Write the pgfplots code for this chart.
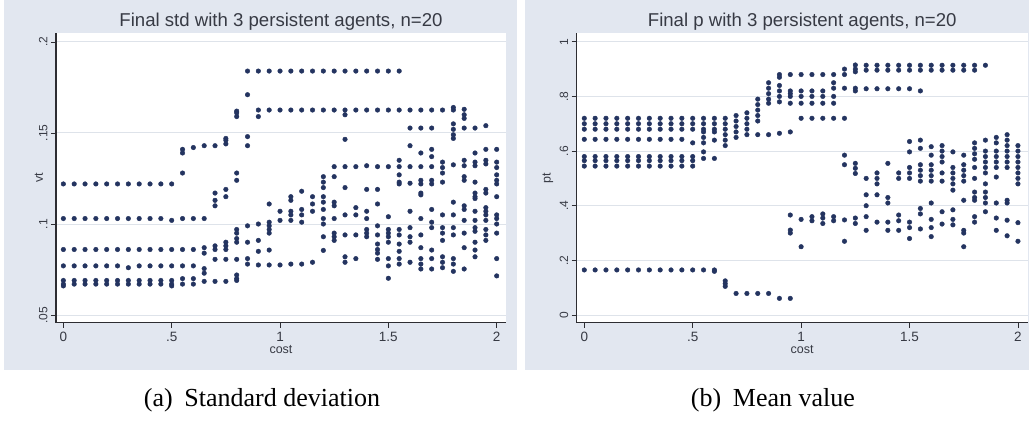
\documentclass[border=0pt]{standalone}
\usepackage{fontspec}
\setmainfont{Liberation Serif}
\newfontfamily\arial{Liberation Sans}
\usepackage{pgfplots}
\pgfplotsset{compat=1.18}
\definecolor{bg}{RGB}{226,231,240}
\definecolor{dotc}{RGB}{36,52,96}
\definecolor{gridc}{RGB}{222,227,234}
\definecolor{txt}{RGB}{55,58,68}
\definecolor{axc}{RGB}{45,45,50}

\pgfplotsset{
  stata/.style={
    scale only axis,
    anchor=south west,
    axis x line*=bottom, axis y line*=left,
    axis line style={axc, line width=1.1pt},
    tick style={axc, line width=0.8pt},
    major tick length=5pt, tick align=outside,
    ymajorgrids, grid style={gridc, line width=1pt},
    axis background/.style={fill=white},
    xticklabel style={font=\arial\fontsize{13.5}{13.5}\selectfont, text=txt, yshift=-1pt},
    yticklabel style={font=\arial\fontsize{12}{12}\selectfont, text=txt, rotate=90, anchor=south},
    title style={font=\arial\fontsize{18.6}{18.6}\selectfont, text=txt, at={(0.5,1)}, anchor=base, yshift=0pt},
    every axis x label/.style={at={(axis description cs:0.5,0)}, anchor=base, yshift=-31pt, font=\arial\fontsize{12.5}{12.5}\selectfont, text=txt},
    xtick={0,0.5,1,1.5,2}, xticklabels={0,.5,1,1.5,2},
  }
}

\begin{document}
\begin{tikzpicture}
\fill[white] (0pt,0pt) rectangle (1031pt,421pt);
\fill[bg] (4pt,51pt) rectangle (516.7pt,421pt);
\fill[bg] (525pt,51pt) rectangle (1029pt,421pt);

\begin{axis}[stata, at={(56pt,98.3pt)}, width=450pt, height=289.7pt,
  xmin=-0.034, xmax=2.043, ymin=0.0458, ymax=0.2049,
  ytick={0.05,0.1,0.15,0.2}, yticklabels={.05,.1,.15,.2},
  title={Final std with 3 persistent agents, n=20},
  xlabel={cost}, ylabel={vt},
  every axis y label/.style={at={(axis description cs:-0.0289,0.5)}, rotate=90, anchor=base, font=\arial\fontsize{12.5}{12.5}\selectfont, text=txt},
]
\addplot[only marks, mark=*, mark size=2.3pt, color=dotc] table[row sep=\\] {
x y\\
0 0.122\\ 0 0.103\\ 0 0.086\\ 0 0.077\\ 0 0.069\\ 0 0.067\\ 0 0.066\\
0.05 0.122\\ 0.05 0.103\\ 0.05 0.086\\ 0.05 0.077\\ 0.05 0.069\\ 0.05 0.067\\
0.1 0.122\\ 0.1 0.103\\ 0.1 0.086\\ 0.1 0.077\\ 0.1 0.069\\ 0.1 0.067\\
0.15 0.122\\ 0.15 0.103\\ 0.15 0.086\\ 0.15 0.077\\ 0.15 0.069\\ 0.15 0.067\\
0.2 0.122\\ 0.2 0.103\\ 0.2 0.086\\ 0.2 0.077\\ 0.2 0.069\\ 0.2 0.067\\
0.25 0.122\\ 0.25 0.103\\ 0.25 0.086\\ 0.25 0.077\\ 0.25 0.069\\ 0.25 0.067\\
0.3 0.122\\ 0.3 0.103\\ 0.3 0.086\\ 0.3 0.076\\ 0.3 0.069\\ 0.3 0.067\\
0.35 0.122\\ 0.35 0.103\\ 0.35 0.086\\ 0.35 0.077\\ 0.35 0.069\\ 0.35 0.067\\
0.4 0.122\\ 0.4 0.103\\ 0.4 0.086\\ 0.4 0.077\\ 0.4 0.069\\ 0.4 0.067\\
0.45 0.122\\ 0.45 0.103\\ 0.45 0.086\\ 0.45 0.077\\ 0.45 0.069\\ 0.45 0.067\\
0.5 0.122\\ 0.5 0.102\\ 0.5 0.086\\ 0.5 0.077\\ 0.5 0.069\\ 0.5 0.067\\ 0.5 0.066\\
0.55 0.141\\ 0.55 0.139\\ 0.55 0.128\\ 0.55 0.103\\ 0.55 0.086\\ 0.55 0.077\\ 0.55 0.070\\ 0.55 0.067\\
0.6 0.142\\ 0.6 0.103\\ 0.6 0.086\\ 0.6 0.077\\ 0.6 0.070\\ 0.6 0.067\\
0.65 0.143\\ 0.65 0.103\\ 0.65 0.087\\ 0.65 0.084\\ 0.65 0.0755\\ 0.65 0.073\\ 0.65 0.0685\\
0.7 0.143\\ 0.7 0.117\\ 0.7 0.113\\ 0.7 0.110\\ 0.7 0.088\\ 0.7 0.086\\ 0.7 0.0806\\ 0.7 0.0685\\
0.75 0.147\\ 0.75 0.146\\ 0.75 0.144\\ 0.75 0.119\\ 0.75 0.115\\ 0.75 0.090\\ 0.75 0.088\\ 0.75 0.086\\ 0.75 0.0806\\ 0.75 0.0685\\
0.8 0.162\\ 0.8 0.161\\ 0.8 0.159\\ 0.8 0.128\\ 0.8 0.124\\ 0.8 0.097\\ 0.8 0.095\\ 0.8 0.092\\ 0.8 0.090\\ 0.8 0.0806\\ 0.8 0.072\\ 0.8 0.070\\ 0.8 0.069\\
0.85 0.184\\ 0.85 0.171\\ 0.85 0.148\\ 0.85 0.143\\ 0.85 0.099\\ 0.85 0.090\\ 0.85 0.081\\ 0.85 0.078\\
0.9 0.184\\ 0.9 0.1626\\ 0.9 0.159\\ 0.9 0.100\\ 0.9 0.091\\ 0.9 0.085\\ 0.9 0.0775\\
0.95 0.184\\ 0.95 0.1626\\ 0.95 0.111\\ 0.95 0.101\\ 0.95 0.099\\ 0.95 0.097\\ 0.95 0.095\\ 0.95 0.0857\\ 0.95 0.0775\\
1.0 0.184\\ 1.0 0.1626\\ 1.0 0.107\\ 1.0 0.102\\ 1.0 0.0775\\
1.05 0.184\\ 1.05 0.1626\\ 1.05 0.115\\ 1.05 0.113\\ 1.05 0.107\\ 1.05 0.105\\ 1.05 0.102\\ 1.05 0.078\\
1.1 0.184\\ 1.1 0.1626\\ 1.1 0.118\\ 1.1 0.108\\ 1.1 0.105\\ 1.1 0.101\\ 1.1 0.078\\
1.15 0.184\\ 1.15 0.1626\\ 1.15 0.115\\ 1.15 0.111\\ 1.15 0.107\\ 1.15 0.079\\
1.2 0.184\\ 1.2 0.1626\\ 1.2 0.126\\ 1.2 0.123\\ 1.2 0.120\\ 1.2 0.115\\ 1.2 0.112\\ 1.2 0.108\\ 1.2 0.103\\ 1.2 0.100\\ 1.2 0.093\\ 1.2 0.0855\\
1.25 0.184\\ 1.25 0.1626\\ 1.25 0.1315\\ 1.25 0.126\\ 1.25 0.112\\ 1.25 0.110\\ 1.25 0.103\\ 1.25 0.095\\ 1.25 0.093\\ 1.25 0.091\\
1.3 0.184\\ 1.3 0.1626\\ 1.3 0.160\\ 1.3 0.1465\\ 1.3 0.1315\\ 1.3 0.120\\ 1.3 0.105\\ 1.3 0.094\\ 1.3 0.082\\ 1.3 0.079\\
1.35 0.184\\ 1.35 0.1626\\ 1.35 0.1315\\ 1.35 0.109\\ 1.35 0.105\\ 1.35 0.094\\ 1.35 0.081\\
1.4 0.184\\ 1.4 0.1626\\ 1.4 0.132\\ 1.4 0.119\\ 1.4 0.107\\ 1.4 0.103\\ 1.4 0.097\\ 1.4 0.095\\ 1.4 0.093\\
1.45 0.184\\ 1.45 0.1626\\ 1.45 0.1315\\ 1.45 0.119\\ 1.45 0.111\\ 1.45 0.099\\ 1.45 0.094\\ 1.45 0.089\\ 1.45 0.086\\ 1.45 0.084\\ 1.45 0.0806\\
1.5 0.184\\ 1.5 0.1626\\ 1.5 0.1315\\ 1.5 0.104\\ 1.5 0.097\\ 1.5 0.095\\ 1.5 0.093\\ 1.5 0.090\\ 1.5 0.081\\ 1.5 0.077\\ 1.5 0.0702\\
1.55 0.184\\ 1.55 0.1626\\ 1.55 0.135\\ 1.55 0.1315\\ 1.55 0.127\\ 1.55 0.123\\ 1.55 0.122\\ 1.55 0.097\\ 1.55 0.094\\ 1.55 0.089\\ 1.55 0.085\\ 1.55 0.081\\ 1.55 0.078\\
1.6 0.1626\\ 1.6 0.1527\\ 1.6 0.143\\ 1.6 0.1315\\ 1.6 0.1224\\ 1.6 0.107\\ 1.6 0.098\\ 1.6 0.093\\ 1.6 0.090\\ 1.6 0.079\\
1.65 0.1626\\ 1.65 0.1527\\ 1.65 0.139\\ 1.65 0.1315\\ 1.65 0.124\\ 1.65 0.122\\ 1.65 0.117\\ 1.65 0.116\\ 1.65 0.103\\ 1.65 0.094\\ 1.65 0.087\\ 1.65 0.081\\ 1.65 0.078\\ 1.65 0.0753\\
1.7 0.1626\\ 1.7 0.1527\\ 1.7 0.141\\ 1.7 0.137\\ 1.7 0.1315\\ 1.7 0.124\\ 1.7 0.122\\ 1.7 0.108\\ 1.7 0.101\\ 1.7 0.098\\ 1.7 0.0857\\ 1.7 0.081\\ 1.7 0.0753\\
1.75 0.1626\\ 1.75 0.134\\ 1.75 0.131\\ 1.75 0.128\\ 1.75 0.123\\ 1.75 0.105\\ 1.75 0.098\\ 1.75 0.095\\ 1.75 0.091\\ 1.75 0.082\\ 1.75 0.079\\ 1.75 0.076\\
1.8 0.164\\ 1.8 0.1626\\ 1.8 0.155\\ 1.8 0.152\\ 1.8 0.149\\ 1.8 0.147\\ 1.8 0.1325\\ 1.8 0.112\\ 1.8 0.105\\ 1.8 0.098\\ 1.8 0.094\\ 1.8 0.081\\ 1.8 0.078\\ 1.8 0.074\\
1.85 0.163\\ 1.85 0.160\\ 1.85 0.158\\ 1.85 0.1527\\ 1.85 0.135\\ 1.85 0.132\\ 1.85 0.126\\ 1.85 0.124\\ 1.85 0.110\\ 1.85 0.108\\ 1.85 0.102\\ 1.85 0.095\\ 1.85 0.087\\ 1.85 0.0753\\
1.9 0.1527\\ 1.9 0.139\\ 1.9 0.134\\ 1.9 0.132\\ 1.9 0.123\\ 1.9 0.117\\ 1.9 0.115\\ 1.9 0.114\\ 1.9 0.107\\ 1.9 0.102\\ 1.9 0.098\\ 1.9 0.096\\ 1.9 0.090\\ 1.9 0.0857\\ 1.9 0.082\\
1.95 0.154\\ 1.95 0.141\\ 1.95 0.135\\ 1.95 0.133\\ 1.95 0.119\\ 1.95 0.117\\ 1.95 0.109\\ 1.95 0.107\\ 1.95 0.105\\ 1.95 0.102\\ 1.95 0.097\\ 1.95 0.094\\ 1.95 0.091\\
2.0 0.141\\ 2.0 0.134\\ 2.0 0.131\\ 2.0 0.127\\ 2.0 0.124\\ 2.0 0.122\\ 2.0 0.115\\ 2.0 0.105\\ 2.0 0.103\\ 2.0 0.100\\ 2.0 0.095\\ 2.0 0.081\\ 2.0 0.0715\\
};
\end{axis}

\begin{axis}[stata, at={(576.7pt,98.3pt)}, width=451pt, height=289.7pt,
  xmin=-0.035, xmax=2.045, ymin=-0.028, ymax=1.032,
  ytick={0,0.2,0.4,0.6,0.8,1}, yticklabels={0,.2,.4,.6,.8,1},
  title={Final p with 3 persistent agents, n=20},
  xlabel={cost}, ylabel={pt},
  every axis y label/.style={at={(axis description cs:-0.058,0.5)}, rotate=90, anchor=base, font=\arial\fontsize{12.5}{12.5}\selectfont, text=txt},
]
\addplot[only marks, mark=*, mark size=2.3pt, color=dotc] table[row sep=\\] {
x y\\
0 0.72\\ 0 0.70\\ 0 0.68\\ 0 0.643\\ 0 0.58\\ 0 0.565\\ 0 0.545\\ 0 0.165\\
0.05 0.72\\ 0.05 0.70\\ 0.05 0.68\\ 0.05 0.643\\ 0.05 0.58\\ 0.05 0.565\\ 0.05 0.545\\ 0.05 0.165\\
0.1 0.72\\ 0.1 0.70\\ 0.1 0.68\\ 0.1 0.643\\ 0.1 0.58\\ 0.1 0.565\\ 0.1 0.545\\ 0.1 0.165\\
0.15 0.72\\ 0.15 0.70\\ 0.15 0.68\\ 0.15 0.643\\ 0.15 0.58\\ 0.15 0.565\\ 0.15 0.545\\ 0.15 0.165\\
0.2 0.72\\ 0.2 0.70\\ 0.2 0.68\\ 0.2 0.643\\ 0.2 0.58\\ 0.2 0.565\\ 0.2 0.545\\ 0.2 0.165\\
0.25 0.72\\ 0.25 0.70\\ 0.25 0.68\\ 0.25 0.643\\ 0.25 0.58\\ 0.25 0.565\\ 0.25 0.545\\ 0.25 0.165\\
0.3 0.72\\ 0.3 0.70\\ 0.3 0.68\\ 0.3 0.643\\ 0.3 0.58\\ 0.3 0.565\\ 0.3 0.545\\ 0.3 0.165\\
0.35 0.72\\ 0.35 0.70\\ 0.35 0.68\\ 0.35 0.643\\ 0.35 0.58\\ 0.35 0.565\\ 0.35 0.545\\ 0.35 0.165\\
0.4 0.72\\ 0.4 0.70\\ 0.4 0.68\\ 0.4 0.643\\ 0.4 0.58\\ 0.4 0.565\\ 0.4 0.545\\ 0.4 0.165\\
0.45 0.72\\ 0.45 0.70\\ 0.45 0.68\\ 0.45 0.643\\ 0.45 0.58\\ 0.45 0.565\\ 0.45 0.545\\ 0.45 0.165\\
0.5 0.72\\ 0.5 0.70\\ 0.5 0.68\\ 0.5 0.63\\ 0.5 0.58\\ 0.5 0.565\\ 0.5 0.545\\ 0.5 0.165\\
0.55 0.72\\ 0.55 0.70\\ 0.55 0.68\\ 0.55 0.67\\ 0.55 0.65\\ 0.55 0.63\\ 0.55 0.597\\ 0.55 0.573\\ 0.55 0.165\\
0.6 0.72\\ 0.6 0.70\\ 0.6 0.68\\ 0.6 0.67\\ 0.6 0.64\\ 0.6 0.573\\ 0.6 0.165\\ 0.6 0.16\\
0.65 0.72\\ 0.65 0.70\\ 0.65 0.68\\ 0.65 0.66\\ 0.65 0.64\\ 0.65 0.62\\ 0.65 0.125\\ 0.65 0.115\\ 0.65 0.105\\
0.7 0.73\\ 0.7 0.71\\ 0.7 0.69\\ 0.7 0.67\\ 0.7 0.65\\ 0.7 0.079\\
0.75 0.74\\ 0.75 0.72\\ 0.75 0.70\\ 0.75 0.68\\ 0.75 0.66\\ 0.75 0.079\\
0.8 0.79\\ 0.8 0.77\\ 0.8 0.75\\ 0.8 0.73\\ 0.8 0.71\\ 0.8 0.66\\ 0.8 0.079\\
0.85 0.85\\ 0.85 0.83\\ 0.85 0.81\\ 0.85 0.79\\ 0.85 0.775\\ 0.85 0.66\\ 0.85 0.079\\
0.9 0.88\\ 0.9 0.87\\ 0.9 0.84\\ 0.9 0.82\\ 0.9 0.80\\ 0.9 0.78\\ 0.9 0.665\\ 0.9 0.061\\
0.95 0.88\\ 0.95 0.82\\ 0.95 0.81\\ 0.95 0.80\\ 0.95 0.775\\ 0.95 0.67\\ 0.95 0.366\\ 0.95 0.311\\ 0.95 0.30\\ 0.95 0.061\\
1.0 0.88\\ 1.0 0.82\\ 1.0 0.80\\ 1.0 0.775\\ 1.0 0.72\\ 1.0 0.35\\ 1.0 0.25\\
1.05 0.88\\ 1.05 0.82\\ 1.05 0.80\\ 1.05 0.775\\ 1.05 0.72\\ 1.05 0.36\\ 1.05 0.345\\
1.1 0.88\\ 1.1 0.82\\ 1.1 0.80\\ 1.1 0.775\\ 1.1 0.72\\ 1.1 0.37\\ 1.1 0.355\\ 1.1 0.335\\
1.15 0.88\\ 1.15 0.85\\ 1.15 0.83\\ 1.15 0.80\\ 1.15 0.775\\ 1.15 0.72\\ 1.15 0.36\\ 1.15 0.345\\
1.2 0.90\\ 1.2 0.88\\ 1.2 0.83\\ 1.2 0.72\\ 1.2 0.585\\ 1.2 0.55\\ 1.2 0.348\\ 1.2 0.27\\
1.25 0.915\\ 1.25 0.90\\ 1.25 0.89\\ 1.25 0.83\\ 1.25 0.82\\ 1.25 0.555\\ 1.25 0.537\\ 1.25 0.518\\ 1.25 0.355\\ 1.25 0.335\\
1.3 0.914\\ 1.3 0.896\\ 1.3 0.828\\ 1.3 0.50\\ 1.3 0.44\\ 1.3 0.40\\ 1.3 0.36\\ 1.3 0.31\\
1.35 0.914\\ 1.35 0.896\\ 1.35 0.828\\ 1.35 0.52\\ 1.35 0.50\\ 1.35 0.48\\ 1.35 0.44\\ 1.35 0.34\\
1.4 0.914\\ 1.4 0.896\\ 1.4 0.828\\ 1.4 0.555\\ 1.4 0.43\\ 1.4 0.41\\ 1.4 0.34\\ 1.4 0.31\\
1.45 0.914\\ 1.45 0.896\\ 1.45 0.828\\ 1.45 0.52\\ 1.45 0.50\\ 1.45 0.366\\ 1.45 0.345\\ 1.45 0.31\\
1.5 0.914\\ 1.5 0.896\\ 1.5 0.828\\ 1.5 0.635\\ 1.5 0.597\\ 1.5 0.54\\ 1.5 0.52\\ 1.5 0.50\\ 1.5 0.34\\ 1.5 0.32\\ 1.5 0.28\\
1.55 0.914\\ 1.55 0.896\\ 1.55 0.82\\ 1.55 0.64\\ 1.55 0.61\\ 1.55 0.55\\ 1.55 0.53\\ 1.55 0.51\\ 1.55 0.49\\ 1.55 0.39\\ 1.55 0.37\\ 1.55 0.315\\
1.6 0.914\\ 1.6 0.896\\ 1.6 0.616\\ 1.6 0.585\\ 1.6 0.55\\ 1.6 0.53\\ 1.6 0.51\\ 1.6 0.49\\ 1.6 0.41\\ 1.6 0.35\\ 1.6 0.32\\ 1.6 0.287\\
1.65 0.914\\ 1.65 0.896\\ 1.65 0.62\\ 1.65 0.60\\ 1.65 0.58\\ 1.65 0.56\\ 1.65 0.52\\ 1.65 0.49\\ 1.65 0.378\\ 1.65 0.333\\
1.7 0.914\\ 1.7 0.896\\ 1.7 0.597\\ 1.7 0.54\\ 1.7 0.52\\ 1.7 0.50\\ 1.7 0.48\\ 1.7 0.457\\ 1.7 0.385\\ 1.7 0.35\\ 1.7 0.33\\
1.75 0.914\\ 1.75 0.896\\ 1.75 0.585\\ 1.75 0.55\\ 1.75 0.53\\ 1.75 0.51\\ 1.75 0.49\\ 1.75 0.42\\ 1.75 0.31\\ 1.75 0.30\\ 1.75 0.25\\
1.8 0.914\\ 1.8 0.896\\ 1.8 0.63\\ 1.8 0.61\\ 1.8 0.59\\ 1.8 0.57\\ 1.8 0.54\\ 1.8 0.50\\ 1.8 0.45\\ 1.8 0.43\\ 1.8 0.42\\ 1.8 0.36\\ 1.8 0.34\\
1.85 0.914\\ 1.85 0.64\\ 1.85 0.60\\ 1.85 0.58\\ 1.85 0.56\\ 1.85 0.54\\ 1.85 0.52\\ 1.85 0.48\\ 1.85 0.45\\ 1.85 0.43\\ 1.85 0.41\\ 1.85 0.378\\
1.9 0.65\\ 1.9 0.63\\ 1.9 0.60\\ 1.9 0.58\\ 1.9 0.56\\ 1.9 0.54\\ 1.9 0.505\\ 1.9 0.41\\ 1.9 0.355\\ 1.9 0.31\\
1.95 0.66\\ 1.95 0.64\\ 1.95 0.62\\ 1.95 0.60\\ 1.95 0.58\\ 1.95 0.56\\ 1.95 0.54\\ 1.95 0.42\\ 1.95 0.41\\ 1.95 0.347\\ 1.95 0.29\\
2.0 0.62\\ 2.0 0.60\\ 2.0 0.58\\ 2.0 0.56\\ 2.0 0.54\\ 2.0 0.52\\ 2.0 0.50\\ 2.0 0.48\\ 2.0 0.338\\ 2.0 0.27\\
};
\end{axis}

\node[font=\fontsize{26}{26}\selectfont, anchor=base] at (262pt,15pt) {(a)\hspace{0.45em}Standard deviation};
\node[font=\fontsize{26}{26}\selectfont, anchor=base] at (773pt,15pt) {(b)\hspace{0.45em}Mean value};
\pgfresetboundingbox
\useasboundingbox (0pt,0pt) rectangle (1031pt,421pt);
\end{tikzpicture}
\end{document}
